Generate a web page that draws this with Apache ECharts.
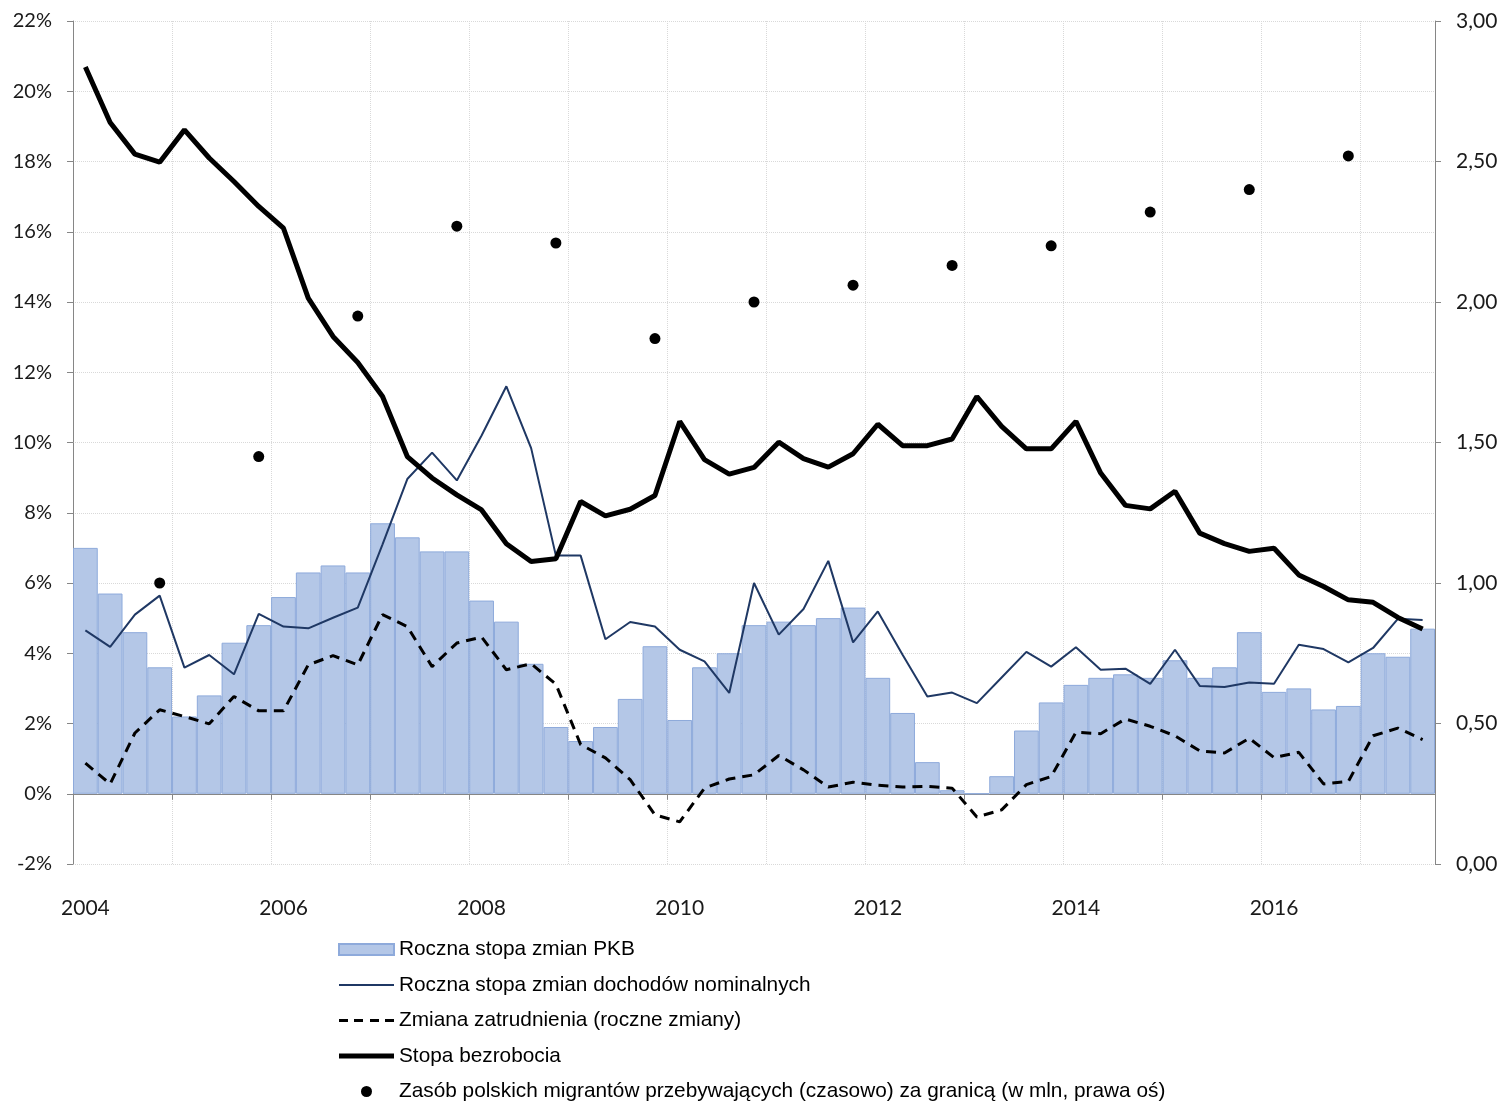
<!DOCTYPE html>
<html>
<head>
<meta charset="utf-8">
<title>Rynek pracy</title>
<script src="https://cdn.jsdelivr.net/npm/echarts@6/dist/echarts.min.js"></script>
</head>
<body style="margin:0;background:#fff">
<div id="main" style="width:1503px;height:1103px;"></div>
<script>
// kwartaly 2004Q1 - 2017Q3
var years = [2004, 2005, 2006, 2007, 2008, 2009, 2010, 2011, 2012, 2013, 2014, 2015, 2016, 2017];
var quarters = [];
years.forEach(function (y) {
    for (var q = 1; q <= 4; q++) {
        if (y === 2017 && q > 3) break;
        quarters.push(y + ' Q' + q);
    }
});

// roczna stopa zmian PKB (%)
var pkb = [7.0, 5.7, 4.6, 3.6, 2.2, 2.8, 4.3, 4.8, 5.6, 6.3, 6.5, 6.3,
    7.7, 7.3, 6.9, 6.9, 5.5, 4.9, 3.7, 1.9, 1.5, 1.9, 2.7, 4.2,
    2.1, 3.6, 4.0, 4.8, 4.9, 4.8, 5.0, 5.3, 3.3, 2.3, 0.9, 0.1,
    0.0, 0.5, 1.8, 2.6, 3.1, 3.3, 3.4, 3.3, 3.8, 3.3, 3.6, 4.6,
    2.9, 3.0, 2.4, 2.5, 4.0, 3.9, 4.7];

// roczna stopa zmian dochodow nominalnych (%)
var dochody = [4.65, 4.18, 5.1, 5.64, 3.59, 3.95, 3.4, 5.12, 4.76, 4.71, 5.01, 5.3,
    7.1, 8.96, 9.71, 8.92, 10.2, 11.6, 9.84, 6.78, 6.78, 4.4, 4.89, 4.76,
    4.1, 3.77, 2.87, 6.0, 4.53, 5.26, 6.63, 4.31, 5.19, 3.96, 2.77, 2.88,
    2.58, 3.31, 4.04, 3.62, 4.17, 3.53, 3.56, 3.13, 4.1, 3.07, 3.04, 3.17,
    3.13, 4.24, 4.12, 3.74, 4.15, 4.98, 4.95];

// zmiana zatrudnienia, roczne zmiany (%)
var zatrudnienie = [0.87, 0.28, 1.73, 2.39, 2.2, 1.99, 2.77, 2.36, 2.36, 3.67, 3.93, 3.67,
    5.1, 4.76, 3.62, 4.29, 4.46, 3.53, 3.7, 3.12, 1.4, 1.02, 0.4, -0.6,
    -0.8, 0.16, 0.42, 0.54, 1.09, 0.68, 0.19, 0.33, 0.24, 0.19, 0.21, 0.16,
    -0.66, -0.46, 0.26, 0.49, 1.75, 1.71, 2.13, 1.92, 1.65, 1.22, 1.16, 1.58,
    1.03, 1.18, 0.28, 0.35, 1.65, 1.87, 1.54];

// stopa bezrobocia (%)
var bezrobocie = [20.69, 19.11, 18.21, 17.98, 18.9, 18.1, 17.43, 16.72, 16.1, 14.11, 13.02, 12.28,
    11.31, 9.6, 8.99, 8.51, 8.08, 7.12, 6.61, 6.69, 8.32, 7.91, 8.1, 8.49,
    10.6, 9.51, 9.1, 9.29, 10.01, 9.54, 9.3, 9.68, 10.52, 9.91, 9.91, 10.1,
    11.31, 10.46, 9.82, 9.82, 10.6, 9.13, 8.21, 8.11, 8.61, 7.42, 7.12, 6.9,
    6.99, 6.23, 5.9, 5.52, 5.45, 5.02, 4.69];

// zasob migrantow (mln, prawa os) - stan na koniec roku
var migrantKw = ['2004 Q4', '2005 Q4', '2006 Q4', '2007 Q4', '2008 Q4', '2009 Q4', '2010 Q4',
    '2011 Q4', '2012 Q4', '2013 Q4', '2014 Q4', '2015 Q4', '2016 Q4'];
var migranci = [1.0, 1.45, 1.95, 2.27, 2.21, 1.87, 2.0, 2.06, 2.13, 2.2, 2.32, 2.4, 2.52];

var nazwy = ['Roczna stopa zmian PKB', 'Roczna stopa zmian dochodów nominalnych',
    'Zmiana zatrudnienia (roczne zmiany)', 'Stopa bezrobocia',
    'Zasób polskich migrantów przebywających (czasowo) za granicą (w mln, prawa oś)'];

var gridColor = '#d9d9d9';
var axisColor = '#868686';
var labelFont = 'Lato, "Liberation Sans", sans-serif';

var myChart = echarts.init(document.getElementById('main'));

var option = {
    animation: false,
    grid: {left: 73, right: 68, top: 21, bottom: 239},
    legend: {
        orient: 'vertical',
        left: 338,
        top: 939,
        height: 180,
        padding: 0,
        itemWidth: 55,
        itemHeight: 11,
        itemGap: 14.5,
        textStyle: {fontFamily: '"Liberation Sans", Arial, sans-serif', fontSize: 20.8, color: '#000'},
        data: [
            {name: nazwy[0], icon: 'rect'},
            {name: nazwy[1], icon: 'path://M0,0H55V2H0Z'},
            {name: nazwy[2], icon: 'path://M0,0H9V3H0Z M15,0H24V3H15Z M31,0H40V3H31Z M46,0H55V3H46Z'},
            {name: nazwy[3], icon: 'path://M0,0H55V5H0Z'},
            {name: nazwy[4], icon: 'circle'}
        ]
    },
    xAxis: {
        type: 'category',
        data: quarters,
        boundaryGap: true,
        axisLine: {onZero: true, onZeroAxisIndex: 0, lineStyle: {color: axisColor, width: 1}},
        axisTick: {show: true, interval: 3, length: 6, lineStyle: {color: axisColor}},
        axisLabel: {
            interval: 7,
            margin: 34,
            fontFamily: labelFont,
            fontSize: 21,
            color: '#1a1a1a',
            formatter: function (v) { return v.substring(0, 4); }
        },
        splitLine: {show: true, interval: 3, lineStyle: {color: gridColor, type: 'dotted', width: 1}}
    },
    yAxis: [{
        type: 'value',
        min: -2,
        max: 22,
        interval: 2,
        axisLine: {show: true, lineStyle: {color: axisColor}},
        axisTick: {show: true, length: 6, lineStyle: {color: axisColor}},
        axisLabel: {
            margin: 21,
            fontFamily: labelFont,
            fontSize: 20,
            color: '#1a1a1a',
            formatter: function (v) { return v + '%'; }
        },
        splitLine: {lineStyle: {color: gridColor, type: 'dotted', width: 1}}
    }, {
        type: 'value',
        min: 0,
        max: 3,
        interval: 0.5,
        position: 'right',
        axisLine: {show: true, lineStyle: {color: axisColor}},
        axisTick: {show: true, length: 6, lineStyle: {color: axisColor}},
        axisLabel: {
            margin: 21,
            fontFamily: labelFont,
            fontSize: 21,
            color: '#1a1a1a',
            formatter: function (v) { return v.toFixed(2).replace('.', ','); }
        },
        splitLine: {show: false}
    }],
    series: [{
        name: nazwy[0],
        type: 'bar',
        data: pkb,
        barCategoryGap: 0,
        itemStyle: {color: '#b4c7e7', borderColor: '#8eaadb', borderWidth: 1}
    }, {
        name: nazwy[1],
        type: 'line',
        data: dochody,
        symbol: 'none',
        lineStyle: {color: '#1f3864', width: 2},
        itemStyle: {color: '#1f3864'}
    }, {
        name: nazwy[2],
        type: 'line',
        data: zatrudnienie,
        symbol: 'none',
        lineStyle: {color: '#000', width: 3, type: [10, 7]},
        itemStyle: {color: '#000'}
    }, {
        name: nazwy[3],
        type: 'line',
        data: bezrobocie,
        symbol: 'none',
        lineStyle: {color: '#000', width: 5},
        itemStyle: {color: '#000'}
    }, {
        name: nazwy[4],
        type: 'scatter',
        yAxisIndex: 1,
        data: migrantKw.map(function (k, i) { return [k, migranci[i]]; }),
        symbolSize: 11,
        itemStyle: {color: '#000', opacity: 1}
    }]
};

myChart.setOption(option);
</script>
</body>
</html>
